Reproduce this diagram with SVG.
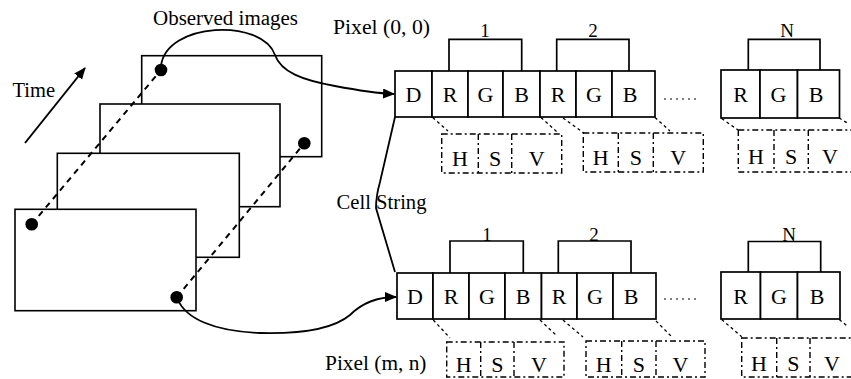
<svg xmlns="http://www.w3.org/2000/svg" width="851" height="379" viewBox="0 0 851 379">
<style>
text{font-family:"Liberation Serif","Times New Roman",serif;fill:#000}
.lbl{font-size:20px}
.cl{font-size:22px;text-anchor:middle}
.hl{font-size:22px;text-anchor:middle}
.num{font-size:19px;text-anchor:middle}
.frame{fill:#fff;stroke:#000;stroke-width:1.6}
.cell{fill:#fff;stroke:#000;stroke-width:1.7}
.hsv{fill:none;stroke:#000;stroke-width:1.4;stroke-dasharray:6 3 2 3}
.br{fill:none;stroke:#000;stroke-width:1.7}
.dash{fill:none;stroke:#000;stroke-width:2;stroke-dasharray:6 5}
.dot{fill:none;stroke:#000;stroke-width:1.3;stroke-dasharray:3 3}
.curve{fill:none;stroke:#000;stroke-width:1.8}
.ell{fill:none;stroke:#000;stroke-width:1.2;stroke-dasharray:2 4}
</style>
<defs>
<marker id="ah" viewBox="0 0 12 10" refX="11" refY="5" markerWidth="12" markerHeight="10" markerUnits="userSpaceOnUse" orient="auto">
<path d="M0,0 L12,5 L0,10 Z" fill="#000"/>
</marker>
</defs>

<g id="frames">
<rect id="frame4" class="frame" x="141.7" y="55.7" width="180" height="101"/>
<rect id="frame3" class="frame" x="100" y="104" width="180" height="102.7"/>
<rect id="frame2" class="frame" x="57.3" y="153.3" width="182" height="104"/>
<rect id="frame1" class="frame" x="15" y="209.3" width="181" height="101.4"/>
</g>

<g id="time">
<line x1="25" y1="143" x2="85" y2="68" stroke="#000" stroke-width="2" marker-end="url(#ah)"/>
<text class="lbl" x="12.5" y="96.5" textLength="42.5" lengthAdjust="spacingAndGlyphs">Time</text>
</g>

<g id="labels">
<text class="lbl" x="153" y="25" textLength="145" lengthAdjust="spacingAndGlyphs">Observed images</text>
<text class="lbl" x="333" y="33.5" textLength="97" lengthAdjust="spacingAndGlyphs">Pixel (0, 0)</text>
<text class="lbl" x="336.5" y="209" textLength="90" lengthAdjust="spacingAndGlyphs">Cell String</text>
<text class="lbl" x="325" y="370" textLength="101.5" lengthAdjust="spacingAndGlyphs">Pixel (m, n)</text>
</g>

<g id="connectors">
<line class="dash" x1="31.7" y1="224.3" x2="161" y2="70"/>
<line class="dash" x1="176.7" y1="297.3" x2="304.3" y2="143.3"/>
<path class="curve" d="M161,66 C166,22 262,18 275,55 C281,72 302,80 335,86 C356,90 372,93 394,94" marker-end="url(#ah)"/>
<path class="curve" d="M178,300 C186,318 212,331 260,333 C300,334 332,330 350,315 C362,303 376,297 396,297" marker-end="url(#ah)"/>
<path class="curve" d="M395,117 L380,182 Q376,196 376,208 L395,272"/>
<line class="dot" x1="432.7" y1="117.5" x2="448" y2="131"/>
<line class="dot" x1="541" y1="117.5" x2="557" y2="132"/>
<line class="dot" x1="563" y1="118" x2="584" y2="133"/>
<line class="dot" x1="655" y1="117.5" x2="670" y2="131"/>
<line class="dot" x1="721.7" y1="118.5" x2="738" y2="130"/>
<line class="dot" x1="839" y1="118" x2="849" y2="124"/>
<line class="dot" x1="433.3" y1="320" x2="450" y2="338"/>
<line class="dot" x1="540" y1="320" x2="557" y2="336"/>
<line class="dot" x1="563" y1="320" x2="583" y2="337"/>
<line class="dot" x1="656" y1="321" x2="672" y2="337"/>
<line class="dot" x1="721.7" y1="319.5" x2="741.7" y2="336.7"/>
<line class="dot" x1="839.3" y1="319.5" x2="848" y2="326.7"/>
</g>

<g id="dots">
<circle cx="161" cy="70" r="6.3"/>
<circle cx="304.3" cy="143.3" r="6.3"/>
<circle cx="31.7" cy="224.3" r="6.3"/>
<circle cx="176.7" cy="297.3" r="6.3"/>
</g>

<g id="string-top">
<rect class="cell" x="395" y="71" width="37" height="46"/>
<rect class="cell" x="432" y="71" width="36" height="46"/>
<rect class="cell" x="468" y="71" width="35" height="46"/>
<rect class="cell" x="503" y="71" width="37" height="46"/>
<rect class="cell" x="540" y="71" width="36" height="46"/>
<rect class="cell" x="576" y="71" width="36" height="46"/>
<rect class="cell" x="612" y="71" width="43" height="46"/>
<text class="cl" x="413.5" y="102">D</text>
<text class="cl" x="450" y="102">R</text>
<text class="cl" x="485.5" y="102">G</text>
<text class="cl" x="521.5" y="102">B</text>
<text class="cl" x="558" y="102">R</text>
<text class="cl" x="594" y="102">G</text>
<text class="cl" x="630" y="102">B</text>
<line class="ell" x1="664" y1="99" x2="700" y2="99"/>
<rect class="cell" x="721" y="70" width="39" height="48"/>
<rect class="cell" x="760" y="70" width="37.5" height="48"/>
<rect class="cell" x="797.5" y="70" width="42" height="48"/>
<text class="cl" x="740.5" y="102">R</text>
<text class="cl" x="778.5" y="102">G</text>
<text class="cl" x="816" y="102">B</text>
<path class="br" d="M449,71 V39.3 H521.7 V71"/>
<path class="br" d="M556.7,71 V39.3 H629 V71"/>
<path class="br" d="M748.3,70 V39.3 H820 V70"/>
<text class="num" x="485" y="37">1</text>
<text class="num" x="593" y="37">2</text>
<text class="num" x="787" y="37">N</text>
</g>

<g id="hsv-top">
<rect class="hsv" x="441.7" y="134" width="120" height="39"/>
<line class="hsv" x1="478.3" y1="134" x2="478.3" y2="173"/>
<line class="hsv" x1="511.7" y1="134" x2="511.7" y2="173"/>
<text class="hl" x="460" y="166">H</text>
<text class="hl" x="495" y="166">S</text>
<text class="hl" x="536.7" y="166">V</text>
<rect class="hsv" x="583.3" y="133" width="120" height="39"/>
<line class="hsv" x1="618.3" y1="133" x2="618.3" y2="172"/>
<line class="hsv" x1="653.3" y1="133" x2="653.3" y2="172"/>
<text class="hl" x="600.8" y="165">H</text>
<text class="hl" x="635.8" y="165">S</text>
<text class="hl" x="678.3" y="165">V</text>
<rect class="hsv" x="738.3" y="130" width="122" height="42"/>
<line class="hsv" x1="774" y1="130" x2="774" y2="172"/>
<line class="hsv" x1="808.3" y1="130" x2="808.3" y2="172"/>
<text class="hl" x="756" y="164">H</text>
<text class="hl" x="791" y="164">S</text>
<text class="hl" x="830" y="164">V</text>
</g>

<g id="string-bottom">
<rect class="cell" x="397" y="273" width="36" height="46"/>
<rect class="cell" x="433" y="273" width="36" height="46"/>
<rect class="cell" x="469" y="273" width="36" height="46"/>
<rect class="cell" x="505" y="273" width="36.5" height="46"/>
<rect class="cell" x="541.5" y="273" width="35.5" height="46"/>
<rect class="cell" x="577" y="273" width="36" height="46"/>
<rect class="cell" x="613" y="273" width="43" height="46"/>
<text class="cl" x="415" y="304">D</text>
<text class="cl" x="451" y="304">R</text>
<text class="cl" x="487" y="304">G</text>
<text class="cl" x="523" y="304">B</text>
<text class="cl" x="559" y="304">R</text>
<text class="cl" x="595" y="304">G</text>
<text class="cl" x="631" y="304">B</text>
<line class="ell" x1="664" y1="299" x2="700" y2="299"/>
<rect class="cell" x="721" y="272" width="39.5" height="47"/>
<rect class="cell" x="760.5" y="272" width="37" height="47"/>
<rect class="cell" x="797.5" y="272" width="42.5" height="47"/>
<text class="cl" x="740.5" y="304">R</text>
<text class="cl" x="779" y="304">G</text>
<text class="cl" x="817" y="304">B</text>
<path class="br" d="M450,273 V241 H523.3 V273"/>
<path class="br" d="M558.3,273 V241 H631 V273"/>
<path class="br" d="M748.3,272 V241.5 H820.7 V272"/>
<text class="num" x="487" y="241">1</text>
<text class="num" x="594" y="241">2</text>
<text class="num" x="789" y="241">N</text>
</g>

<g id="hsv-bottom">
<rect class="hsv" x="446.7" y="342" width="117.3" height="35"/>
<line class="hsv" x1="480.7" y1="342" x2="480.7" y2="377"/>
<line class="hsv" x1="514" y1="342" x2="514" y2="377"/>
<text class="hl" x="463.7" y="371.5">H</text>
<text class="hl" x="497.4" y="371.5">S</text>
<text class="hl" x="539" y="371.5">V</text>
<rect class="hsv" x="586" y="341" width="119" height="36"/>
<line class="hsv" x1="621.7" y1="341" x2="621.7" y2="377"/>
<line class="hsv" x1="656" y1="341" x2="656" y2="377"/>
<text class="hl" x="603.8" y="371.5">H</text>
<text class="hl" x="638.8" y="371.5">S</text>
<text class="hl" x="680.5" y="371.5">V</text>
<rect class="hsv" x="741.7" y="338" width="120" height="39"/>
<line class="hsv" x1="776.7" y1="338" x2="776.7" y2="377"/>
<line class="hsv" x1="810" y1="338" x2="810" y2="377"/>
<text class="hl" x="759" y="371">H</text>
<text class="hl" x="793.3" y="371">S</text>
<text class="hl" x="832" y="371">V</text>
</g>
</svg>
